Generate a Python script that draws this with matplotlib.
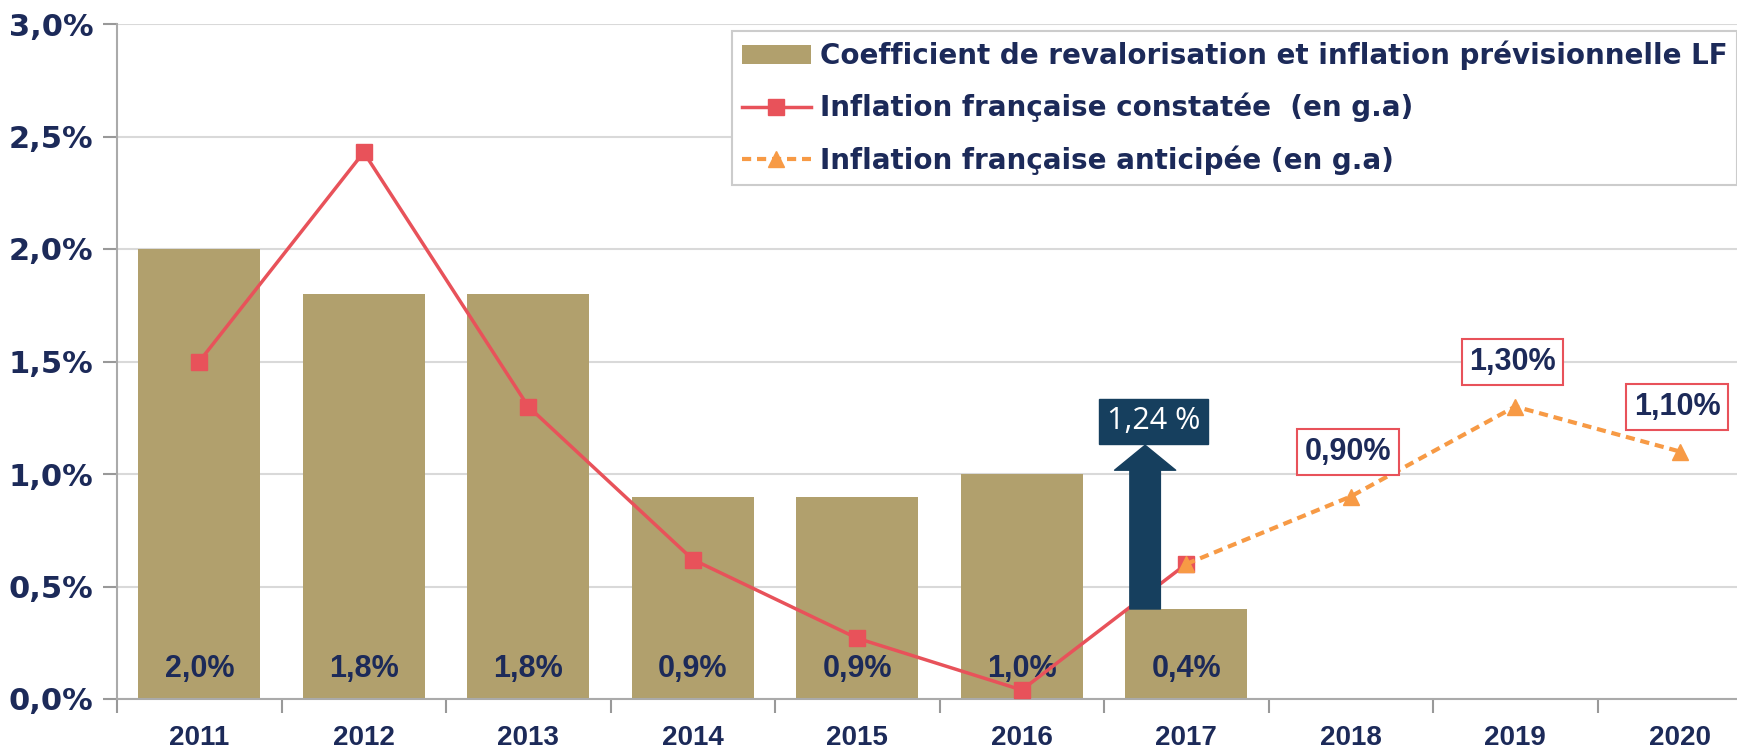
import matplotlib
matplotlib.use("Agg")
import matplotlib.pyplot as plt
from matplotlib.patches import FancyArrowPatch
import numpy as np

# data
years = ["2011", "2012", "2013", "2014", "2015", "2016", "2017", "2018", "2019", "2020"]
coef_lf = [2.0, 1.8, 1.8, 0.9, 0.9, 1.0, 0.4]
coef_labels = ["2,0%", "1,8%", "1,8%", "0,9%", "0,9%", "1,0%", "0,4%"]
infl_constatee = [1.5, 2.43, 1.3, 0.62, 0.27, 0.04, 0.6]
infl_anticipee = [0.6, 0.9, 1.3, 1.1]          # 2017 -> 2020
anticipee_labels = [None, "0,90%", "1,30%", "1,10%"]
arrow_label = "1,24 %"
yticks = [0.0, 0.5, 1.0, 1.5, 2.0, 2.5, 3.0]
ytick_labels = ["0,0%", "0,5%", "1,0%", "1,5%", "2,0%", "2,5%", "3,0%"]

navy = "#1c2a59"
khaki = "#b1a06d"
red = "#e8525a"
orange = "#f79a45"
darkbox = "#163f5e"

fig = plt.figure(figsize=(17.37, 7.51), dpi=100)
ax = fig.add_axes([117 / 1737, 1 - 699 / 751, 1645 / 1737, 675 / 751])

x = np.arange(len(years))
xb = x[:len(coef_lf)]
ax.bar(xb, coef_lf, width=0.74, color=khaki, zorder=2,
       label="Coefficient de revalorisation et inflation prévisionnelle LF")
for xi, lab in zip(xb, coef_labels):
    ax.text(xi, 0.135, lab, ha="center", va="center", fontsize=22,
            fontweight="bold", color=navy, family="Liberation Sans", zorder=3)

xa = x[len(coef_lf) - 1:]
ax.plot(xa, infl_anticipee, color=orange, lw=3, ls=(0, (2.2, 1.4)),
        marker="^", ms=11, zorder=4, label="Inflation française anticipée (en g.a)")
ax.plot(xb, infl_constatee, color=red, lw=2.5, marker="s", ms=11, zorder=3,
        label="Inflation française constatée  (en g.a)")

for xi, yi, lab in zip(xa, infl_anticipee, anticipee_labels):
    if lab is None:
        continue
    ax.annotate(lab, (xi, yi), xytext=(-2, 32), textcoords="offset points",
                ha="center", va="center", fontsize=22, fontweight="bold",
                color=navy, family="Liberation Sans", zorder=6,
                bbox=dict(boxstyle="square,pad=0.25", fc="white", ec=red, lw=1.5))

# arrow from the 2017 bar up to the 1,24 % box
x17 = xb[-1]
arr = FancyArrowPatch((x17 - 0.25, coef_lf[-1]), (x17 - 0.25, 1.128),
                      arrowstyle="simple,head_length=1.8,head_width=4.4,tail_width=2.2",
                      mutation_scale=10, color=darkbox, shrinkA=0, shrinkB=0, zorder=6)
ax.add_patch(arr)
ax.text(x17 - 0.2, 1.234, arrow_label, ha="center", va="center", fontsize=22,
        color="white", family="Open Sans", zorder=7,
        bbox=dict(boxstyle="square,pad=0.25", fc=darkbox, ec=darkbox))

ax.set_xlim(-0.5, len(years) - 0.5)
ax.set_ylim(0, 3.0)
ax.set_yticks(yticks)
ax.set_yticklabels(ytick_labels, fontsize=22, fontweight="bold", color=navy,
                   family="DejaVu Sans")
ax.set_xticks(x)
ax.set_xticklabels(years, fontsize=20, fontweight="bold", color=navy,
                   family="Liberation Sans")
ax.set_xticks(np.arange(-0.5, len(years), 1), minor=True)
ax.tick_params(axis="x", which="major", length=0, pad=19)
ax.tick_params(axis="x", which="minor", length=10, color="#999999", width=1.5)
ax.tick_params(axis="y", length=10, color="#999999", width=1.5, pad=7)

ax.grid(axis="y", color="#d9d9d9", lw=1.5, zorder=0)
ax.set_axisbelow(True)
for s in ["top", "right"]:
    ax.spines[s].set_visible(False)
for s in ["left", "bottom"]:
    ax.spines[s].set_color("#aaaaaa")
    ax.spines[s].set_linewidth(1.5)

h, l = ax.get_legend_handles_labels()
order = [2, 1, 0]
leg = fig.legend([h[i] for i in order], [l[i] for i in order],
                 loc="upper left", bbox_to_anchor=(732 / 1737, 1 - 31 / 751),
                 borderaxespad=0, fancybox=False, edgecolor="#cccccc",
                 framealpha=1, handlelength=2.5, handletextpad=0.3,
                 labelspacing=0.82, borderpad=0.35,
                 prop=dict(family="DejaVu Sans", weight="bold", size=20))
leg.get_frame().set_linewidth(1.5)
for t in leg.get_texts():
    t.set_color(navy)

fig.savefig("out.png", dpi=100)
